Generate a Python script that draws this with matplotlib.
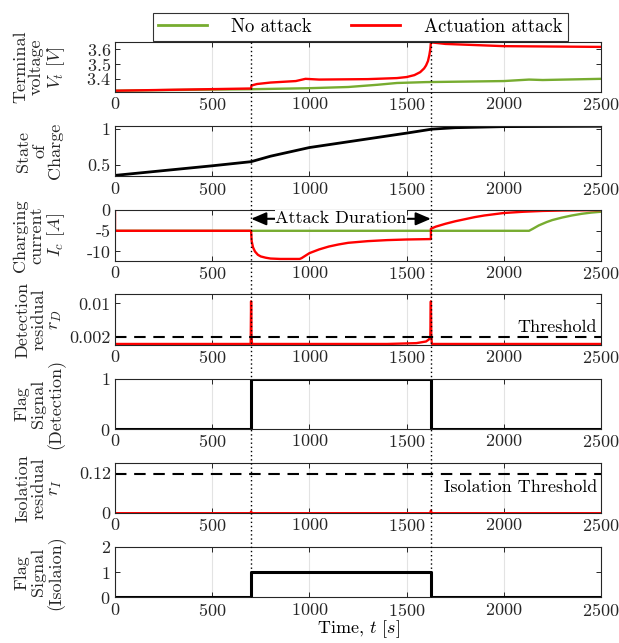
import numpy as np
import matplotlib.pyplot as plt
from matplotlib.lines import Line2D
from matplotlib import transforms

plt.rcParams['font.family'] = 'cmr10'
plt.rcParams['mathtext.fontset'] = 'cm'
plt.rcParams['axes.formatter.use_mathtext'] = True
plt.rcParams['font.size'] = 13

# attack window
t_start = 700
t_end = 1625

# terminal voltage
t_v_no = [0, 300, 700, 1000, 1200, 1350, 1450, 1600, 2000, 2130, 2200, 2500]
v_no = [3.32, 3.325, 3.33, 3.337, 3.345, 3.36, 3.372, 3.378, 3.385, 3.395, 3.392, 3.40]
t_v_att = [0, 700, 702, 730, 800, 930, 980, 1050, 1300, 1450, 1500, 1540, 1570, 1590,
           1600, 1610, 1617, 1622, 1625, 1630, 1700, 2000, 2500]
v_att = [3.32, 3.335, 3.355, 3.365, 3.375, 3.385, 3.40, 3.395, 3.398, 3.405, 3.412,
         3.425, 3.445, 3.47, 3.49, 3.52, 3.56, 3.60, 3.645, 3.645, 3.635, 3.62, 3.615]

# state of charge
t_soc = [0, 500, 700, 800, 1000, 1300, 1500, 1630, 1750, 2000, 2500]
soc = [0.354, 0.487, 0.544, 0.62, 0.74, 0.86, 0.94, 0.995, 1.015, 1.03, 1.035]

# charging current
t_i_no = [0, 2130, 2150, 2180, 2220, 2250, 2300, 2350, 2400, 2450, 2500]
i_no = [-5, -5, -4.5, -3.7, -2.9, -2.4, -1.8, -1.3, -0.9, -0.6, -0.4]
t_i_att = [0, 0, 700, 703, 710, 720, 735, 750, 775, 800, 850, 950, 960, 980, 1000,
           1050, 1100, 1150, 1200, 1300, 1400, 1500, 1625, 1625, 1650, 1700, 1750,
           1800, 1850, 1900, 2000, 2100, 2200, 2300, 2500]
i_att = [0, -5, -5, -7.5, -9, -10, -10.8, -11.2, -11.5, -11.7, -11.8, -11.8, -11.6,
         -11.0, -10.4, -9.5, -8.8, -8.3, -7.9, -7.5, -7.25, -7.1, -7.0, -4.5, -4.0,
         -3.3, -2.7, -2.2, -1.7, -1.3, -0.7, -0.4, -0.2, -0.1, 0]

# detection residual
t_rd = [0, 698, 700, 702, 705, 1400, 1550, 1600, 1615, 1622, 1625, 1627, 1630, 2500]
r_d = [0.0002, 0.0002, 0.0105, 0.002, 0.0002, 0.0002, 0.0004, 0.0008, 0.0013, 0.002,
       0.0105, 0.002, 0.0002, 0.0002]
thr_d = 0.0018

# isolation residual
t_ri = [0, 698, 700, 704, 1622, 1625, 1629, 2500]
r_i = [0, 0, 0.005, 0, 0, 0.008, 0, 0]
thr_i = 0.117

# flags
t_flag = [0, 700, 700, 1625, 1625, 2500]
flag_det = [0, 0, 1, 1, 0, 0]
flag_iso = [0, 0, 1, 1, 0, 0]

green = '#77AC30'
red = '#FF0000'
axc = '#262626'
fs = 13

fig = plt.figure(figsize=(6.19, 6.43), dpi=100)
W, H = 619, 643
left, right = 115, 601
axes = []
for i in range(7):
    top = 41.7 + 84.2 * i
    ax = fig.add_axes([left / W, 1 - (top + 50.5) / H, (right - left) / W, 50.5 / H])
    axes.append(ax)

ax1, ax2, ax3, ax4, ax5, ax6, ax7 = axes

l1, = ax1.plot(t_v_no, v_no, color=green, lw=1.7, label='No attack')
l2, = ax1.plot(t_v_att, v_att, color=red, lw=1.7, label='Actuation attack')
ax1.set_ylim(3.31, 3.65)
ax1.set_yticks([3.4, 3.5, 3.6])
ax1.set_ylabel('Terminal\nvoltage\n$V_t$ $[V]$')

ax2.plot(t_soc, soc, color='black', lw=2)
ax2.set_ylim(0.34, 1.04)
ax2.set_yticks([0.5, 1])
ax2.set_yticklabels(['0.5', '1'])
ax2.set_ylabel('State\nof\nCharge')

ax3.plot(t_i_no, i_no, color=green, lw=1.7)
ax3.plot(t_i_att, i_att, color=red, lw=1.7)
ax3.set_ylim(-12.2, 0)
ax3.set_yticks([-10, -5, 0])
ax3.set_yticklabels(['-10', '-5', '0'])
ax3.set_ylabel('Charging\ncurrent\n$I_c$ $[A]$')
ax3.annotate('', xy=(t_start, -2.1), xytext=(t_end, -2.1),
             arrowprops=dict(arrowstyle='<|-|>,head_length=0.7,head_width=0.3',
                             color='black', lw=1.5, shrinkA=0, shrinkB=0))
ax3.text((t_start + t_end) / 2, -2.1, 'Attack Duration', ha='center', va='center',
         fontsize=fs, bbox=dict(facecolor='white', edgecolor='none', pad=0.5))

ax4.plot(t_rd, r_d, color=red, lw=1.7)
ax4.axhline(thr_d, color='black', lw=1.5, dashes=(5.5, 3.7))
ax4.text(2480, 0.0042, 'Threshold', ha='right', va='center', fontsize=fs)
ax4.set_ylim(0, 0.0122)
ax4.set_yticks([0.002, 0.01])
ax4.set_yticklabels(['0.002', '0.01'])
ax4.set_ylabel('Detection\nresidual\n$r_D$')

ax5.plot(t_flag, flag_det, color='black', lw=2.2)
ax5.set_ylim(0, 1)
ax5.set_yticks([0, 1])
ax5.set_ylabel('Flag\nSignal\n(Detection)')

ax6.plot(t_ri, r_i, color=red, lw=1.7)
ax6.axhline(thr_i, color='black', lw=1.5, dashes=(5.5, 3.7))
ax6.text(2480, 0.079, 'Isolation Threshold', ha='right', va='center', fontsize=fs)
ax6.set_ylim(0, 0.152)
ax6.set_yticks([0, 0.12])
ax6.set_yticklabels(['0', '0.12'])
ax6.set_ylabel('Isolation\nresidual\n$r_I$')

ax7.plot(t_flag, flag_iso, color='black', lw=2.2)
ax7.set_ylim(0, 2)
ax7.set_yticks([0, 1, 2])
ax7.set_ylabel('Flag\nSignal\n(Isolaion)')
ax7.set_xlabel('Time, $t$ $[s]$', labelpad=0)

for ax in axes:
    ax.set_xlim(0, 2500)
    ax.set_xticks([0, 500, 1000, 1500, 2000, 2500])
    ax.xaxis.grid(True, color='#e3e3e3', lw=0.8)
    ax.set_axisbelow(True)
    ax.tick_params(direction='in', top=True, right=True, length=3.5, width=0.7,
                   colors=axc, labelcolor=axc, labelsize=fs, pad=3)
    for sp in ax.spines.values():
        sp.set_color(axc)
        sp.set_linewidth(0.8)
    ax.yaxis.set_label_coords(-0.155, 0.5)
    ax.yaxis.label.set_verticalalignment('center')
    ax.yaxis.label.set_linespacing(1.05)
    ax.yaxis.label.set_color(axc)

# dotted lines marking attack start / end across all panels
trans = transforms.blended_transform_factory(ax1.transData, fig.transFigure)
y_top = 1 - 41.7 / H
y_bot = 1 - (41.7 + 84.2 * 6 + 50.5) / H
for tx in [t_start, t_end]:
    fig.add_artist(Line2D([tx, tx], [y_top, y_bot], transform=trans, color='black',
                          lw=1.0, linestyle=(0, (1, 2))))

leg = fig.legend(handles=[l1, l2], loc='upper center', ncol=2,
                 bbox_to_anchor=(360.5 / W, 1 - 4 / H), frameon=True, fancybox=False,
                 edgecolor='black', handlelength=2.6, handletextpad=1.3,
                 columnspacing=2.1, fontsize=13.5, borderpad=0.25)
leg.get_frame().set_linewidth(0.8)
for ln in leg.get_lines():
    ln.set_linewidth(2)

fig.savefig('out.png', dpi=100)
